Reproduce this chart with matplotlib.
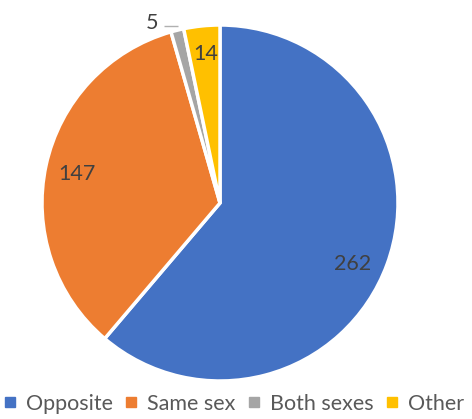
import matplotlib
matplotlib.use("Agg")
import matplotlib.pyplot as plt
from matplotlib.lines import Line2D
import numpy as np

categories = ["Opposite", "Same sex", "Both sexes", "Other"]
counts = [262, 147, 5, 14]
colors = ["#4472C4", "#ED7D31", "#A5A5A5", "#FFC000"]

plt.rcParams["font.family"] = ["Lato", "DejaVu Sans"]
text_color = "#404040"

W, H = 472, 419
fig = plt.figure(figsize=(W / 100, H / 100), dpi=100)
cx, cy, r = 220, 203, 178
ax = fig.add_axes([(cx - r) / W, (H - cy - r) / H, 2 * r / W, 2 * r / H])

wedges, _ = ax.pie(counts, colors=colors, startangle=90, counterclock=False,
                   radius=1, wedgeprops=dict(edgecolor="white", linewidth=2.5))
ax.set_xlim(-1, 1)
ax.set_ylim(-1, 1)
ax.set_aspect("equal")
ax.axis("off")

# inside labels: (radial distance, nudge in points)
label_pos = [(0.81, (-2, -8)), (0.82, (0, -1)), None, (0.85, (1, -1))]
for w, val, p in zip(wedges, counts, label_pos):
    mid = np.deg2rad((w.theta1 + w.theta2) / 2)
    if p is not None:
        d, off = p
        ax.annotate(str(val), xy=(d * np.cos(mid), d * np.sin(mid)),
                    xytext=off, textcoords="offset points",
                    ha="center", va="center", fontsize=15.5, color=text_color)
    else:
        # small slice: label outside with a short leader line
        ax.text(-0.382, 1.013, str(val), ha="center", va="center",
                fontsize=15.5, color=text_color, clip_on=False)
        ax.plot([-0.315, -0.236], [0.994, 0.994], color="#B0B0B0", lw=1,
                clip_on=False, solid_capstyle="butt")

handles = [Line2D([], [], marker="s", linestyle="none", markersize=7,
                  markerfacecolor=c, markeredgecolor=c) for c in colors]
fig.legend(handles, categories, loc="center", bbox_to_anchor=(0.494, (H - 404) / H),
           ncol=4, frameon=False, fontsize=15.5, labelcolor="#595959",
           handletextpad=0.4, columnspacing=0.5, handlelength=0.7)

fig.savefig("out.png", dpi=100)
